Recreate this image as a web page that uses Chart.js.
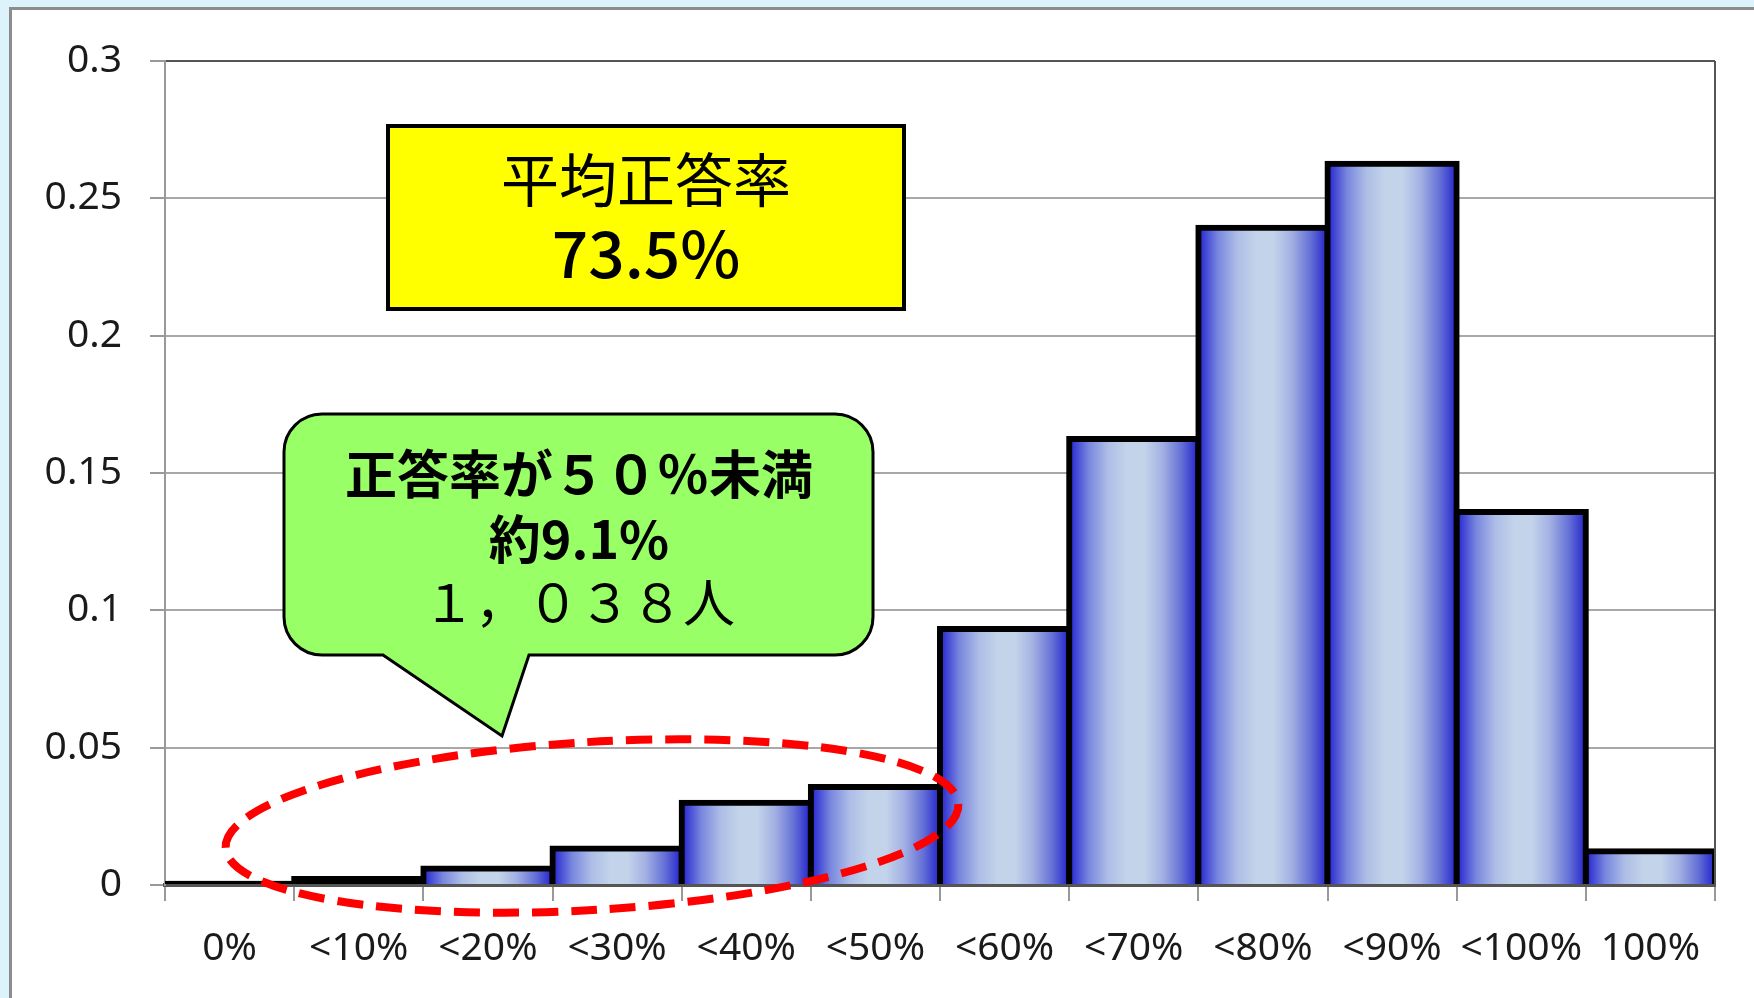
<!DOCTYPE html>
<html>
<head>
<meta charset="utf-8">
<script src="https://cdn.jsdelivr.net/npm/chart.js@4.4.1/dist/chart.umd.min.js"></script>
<style>
    html, body { margin: 0; padding: 0; width: 1754px; height: 998px; overflow: hidden; background: #ddf3fb; }
    #panel { position: absolute; left: 9px; top: 7px; width: 1760px; height: 1000px; background: #fff; border: 3px solid #8c8c8c; }
    #chart { position: absolute; left: 0; top: 0; }
</style>
</head>
<body>
<div id="panel"></div>
<canvas id="chart" width="1754" height="998"></canvas>
<script>
// Данные гистограммы (доля учащихся по интервалам правильных ответов)
const categories = ['0%', '<10%', '<20%', '<30%', '<40%', '<50%', '<60%', '<70%', '<80%', '<90%', '<100%', '100%'];
const shares = [0.0005, 0.0022, 0.006, 0.0133, 0.0299, 0.0357, 0.0932, 0.1624, 0.2393, 0.2626, 0.1358, 0.0123];
const yTickLabels = ['0', '0.05', '0.1', '0.15', '0.2', '0.25', '0.3'];

// Надписи на графике
const meanTitle = '平均正答率';
const meanValue = '73.5%';
const calloutLines = ['正答率が５０％未満', '約9.1%', '１，０３８人'];

// Горизонтальный градиент для каждого столбца
function barFill(c) {
    const chart = c.chart;
    const xs = chart.scales.x, ys = chart.scales.y;
    if (!xs || !ys || !chart.chartArea) return '#2828d0';
    const h = ys.getPixelForValue(0) - ys.getPixelForValue(c.raw);
    if (h < 8) return '#000';
    const area = chart.chartArea;
    const cw = (area.right - area.left) / categories.length;
    const cx = xs.getPixelForValue(c.dataIndex);
    const g = chart.ctx.createLinearGradient(cx - cw / 2, 0, cx + cw / 2, 0);
    g.addColorStop(0, '#2222d0');
    g.addColorStop(0.15, '#7886de');
    g.addColorStop(0.3, '#adbde6');
    g.addColorStop(0.45, '#c3d4ea');
    g.addColorStop(0.58, '#c3d4ea');
    g.addColorStop(0.72, '#a3b1e3');
    g.addColorStop(0.87, '#6470d6');
    g.addColorStop(1, '#2222cc');
    return g;
}

// Рамка справа и подписи поверх графика
const overlayPlugin = {
    id: 'overlay',
    afterDraw(chart) {
        const ctx = chart.ctx;
        const a = chart.chartArea;
        ctx.save();

        // правая граница области построения
        ctx.strokeStyle = '#555';
        ctx.lineWidth = 2;
        ctx.beginPath();
        ctx.moveTo(a.right, a.top);
        ctx.lineTo(a.right, a.bottom);
        ctx.stroke();

        // жёлтая плашка со средним
        ctx.fillStyle = '#ffff00';
        ctx.fillRect(388, 126, 516, 183);
        ctx.strokeStyle = '#000';
        ctx.lineWidth = 4;
        ctx.strokeRect(388, 126, 516, 183);
        ctx.fillStyle = '#000';
        ctx.textAlign = 'center';
        ctx.textBaseline = 'middle';
        ctx.font = '58px "Noto Sans CJK JP"';
        ctx.fillText(meanTitle, 646, 180);
        ctx.font = '500 64px "Noto Sans CJK JP"';
        ctx.fillText(meanValue, 646, 254);

        // зелёная выноска
        const L = 284, T = 414, R = 873, B = 655, r = 38;
        ctx.beginPath();
        ctx.moveTo(L + r, T);
        ctx.lineTo(R - r, T);
        ctx.arcTo(R, T, R, T + r, r);
        ctx.lineTo(R, B - r);
        ctx.arcTo(R, B, R - r, B, r);
        ctx.lineTo(529, B);
        ctx.lineTo(502, 736);
        ctx.lineTo(383, B);
        ctx.lineTo(L + r, B);
        ctx.arcTo(L, B, L, B - r, r);
        ctx.lineTo(L, T + r);
        ctx.arcTo(L, T, L + r, T, r);
        ctx.closePath();
        ctx.fillStyle = '#99ff66';
        ctx.fill();
        ctx.strokeStyle = '#000';
        ctx.lineWidth = 3;
        ctx.stroke();

        ctx.fillStyle = '#000';
        ctx.font = 'bold 52px "Noto Sans CJK JP"';
        ctx.fillText(calloutLines[0], 579, 474);
        ctx.fillText(calloutLines[1], 579, 539);
        ctx.font = '52px "Noto Sans CJK JP"';
        ctx.fillText(calloutLines[2], 579, 602);

        // красный пунктирный эллипс
        ctx.strokeStyle = '#ff0000';
        ctx.lineWidth = 8;
        ctx.setLineDash([26, 13]);
        ctx.beginPath();
        ctx.ellipse(592, 826, 367, 84, -0.06, 0, Math.PI * 2);
        ctx.stroke();
        ctx.restore();
    }
};

const chart = new Chart(document.getElementById('chart'), {
    type: 'bar',
    data: {
        labels: categories,
        datasets: [{
            data: shares,
            backgroundColor: barFill,
            borderColor: '#000',
            borderWidth: 6,
            inflateAmount: 3,
            barPercentage: 1,
            categoryPercentage: 1
        }]
    },
    options: {
        responsive: false,
        animation: false,
        layout: { padding: { top: 61, right: 39, left: 0, bottom: 0 } },
        plugins: {
            legend: { display: false },
            tooltip: { enabled: false }
        },
        scales: {
            x: {
                z: 1,
                afterFit: s => { s.height = 113; },
                grid: { offset: true, drawOnChartArea: false, color: '#999', lineWidth: 2, tickLength: 16 },
                border: { color: '#555', width: 4 },
                ticks: { color: '#1a1a1a', padding: 24, font: { family: 'Noto Sans', size: 39 } }
            },
            y: {
                min: 0,
                max: 0.3,
                afterFit: s => { s.width = 165; },
                grid: {
                    color: c => (c.index === yTickLabels.length - 1 ? '#555' : '#a8a8a8'),
                    lineWidth: 2,
                    tickLength: 15,
                    tickColor: '#999'
                },
                border: { color: '#999', width: 2 },
                ticks: {
                    stepSize: 0.05,
                    color: '#1a1a1a',
                    padding: 28,
                    font: { family: 'Noto Sans', size: 39 },
                    callback: (v, i) => yTickLabels[i]
                }
            }
        }
    },
    plugins: [overlayPlugin]
});
</script>
</body>
</html>
